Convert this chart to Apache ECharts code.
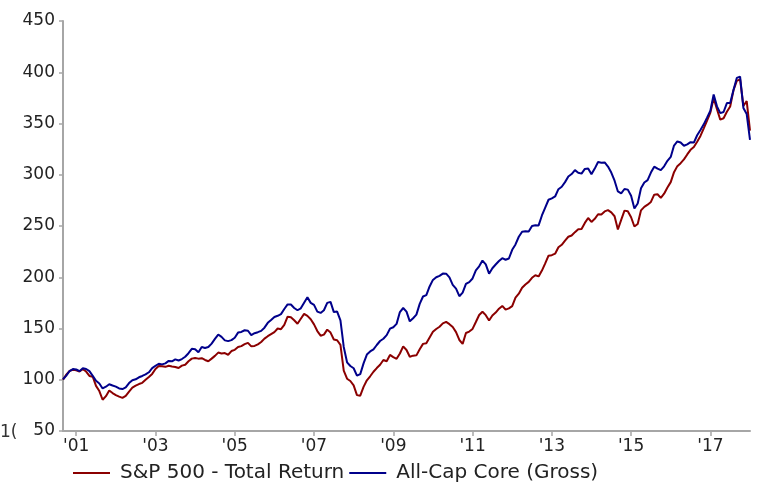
<!DOCTYPE html>
<html>
<head>
<meta charset="utf-8">
<script src="https://cdn.jsdelivr.net/npm/echarts@6/dist/echarts.min.js"></script>
<style>html,body{margin:0;padding:0;background:#fff}#c{width:774px;height:482px}</style>
</head>
<body>
<div id="c"></div>
<script>
// Monthly observations, first month and count
const startYear = 2000, startMonth = 9, monthCount = 209;
const seriesNames = ['S&P 500 - Total Return', 'All-Cap Core (Gross)'];
const yTicks = [50, 100, 150, 200, 250, 300, 350, 400, 450];

const sp500 = [
100,105,108.7,109.8,109.2,108,110.3,108,103.7,103,94,89,80.5,84,89.5,87,85,83.5,82.3,84.3,
88.5,92.3,94.3,95.8,97,100,102.7,105.7,110.5,113.4,113.2,112.6,113.7,113,112.5,111.4,113.8,114.6,118,120.6,
121.2,120.6,121,119.3,118,120.6,123.3,126.5,125.6,126,124.4,128,129.2,131.9,132.8,134.7,136,132.6,133,134.5,
136.8,140.1,142.5,144.5,146.5,150,149.3,153.5,161.5,161,158,154.6,159.5,164.3,162.3,159,154,147.5,143,144,
148.9,146,139.3,138.5,134,109,101,98.8,94.5,85,84.5,93,99.5,103.4,107.8,111.4,114.6,119.3,118,124.2,
122,120.4,125.6,132.5,129,122.5,123.5,123.8,129.8,135,135.6,141.3,146.8,149.5,151.7,155,156.4,154.2,151.4,146.5,
138.8,135,145.6,147,149.6,156.3,163.2,166.4,163,157.8,162.7,165.5,169.3,172,168.4,169.6,171.8,180.2,184,189.8,
193,195.5,199.5,202,200.8,206.5,213.5,221,221.5,223,229.2,231.7,235.8,239.5,240.7,244,246.9,247,253,257.8,
254,257,261.5,261.3,264.2,265.5,263.3,259.5,246.6,256,265,264.4,258.5,249.5,252,265.3,268.7,270.8,273.5,280.6,
281,277.5,281.5,287.5,292.8,302.5,308.4,311.3,315,319.8,324.3,327,332.2,337.9,345.3,352.9,360.6,374.7,364,353.7,
355.1,361.4,366.6,382.4,391.6,393,367,371.9,343
];

const allCap = [
100.5,104,108.5,110.4,110,108.4,111.2,110.5,108.4,103.8,99,96.4,91.5,93.2,95.6,94.4,93.3,91.5,90.9,92.5,
96.8,99.6,100.4,102.4,103.7,105.2,107.3,111.3,113.6,115.6,115,116,118.4,118,119.9,118.8,120.2,122.4,125.9,130.2,
129.8,126.8,131.9,130.9,131.9,135.3,139.8,144.1,141.8,138.4,137.7,138.7,141,146,146.6,148.3,147.8,143.6,145.4,146.4,
147.7,150.8,155.5,158.3,161.2,162.4,164,169,173.5,173.4,170,167.8,169.7,175.2,180.5,175,173,166.5,165.2,167.8,
175,176,166,166.5,158,132,117,113.4,111.2,104,105.5,116,124.6,127.6,129.7,133.9,137.8,140,143.5,149.8,
151.2,154.5,166,170,166.5,157,160,163.5,174,181.2,182.5,191,197.4,200,201.4,203.6,203.5,199.9,192.5,188.9,
181.5,185,193.5,195.3,198.8,206.8,210.7,216.3,212.5,203.5,208.8,212.4,215.8,218.6,217.1,218.3,226.8,232,239.5,244.4,
244.8,244.6,250.1,250.7,250.6,260.3,268,275.6,276.9,278.8,285.9,288.3,292.8,298.3,300.7,304.5,302,301.1,305.7,306.1,
300.6,306,312.5,311.8,312,308,302.1,294.2,283.7,281.8,286.1,285.5,279.5,267,272,286.8,292.4,294.7,302.1,307.9,
305.9,304.5,308.2,313.6,317.4,328.5,332.5,331.4,328.3,329.7,331.8,331.4,338.5,343.7,349.2,355.7,362.4,378.3,366.7,360.1,
361.2,369.9,369.9,382.6,394.5,395.8,365.2,359.2,334
];

const months = [];
for (let i = 0; i < monthCount; i++) {
  const m0 = startMonth - 1 + i;
  const y = startYear + Math.floor(m0 / 12);
  const m = (m0 % 12) + 1;
  months.push(y + '-' + (m < 10 ? '0' + m : m));
}
// show a label every other January
const showLabel = (idx, val) => {
  const v = months[idx] || val;
  const y = +v.slice(0, 4), m = +v.slice(5, 7);
  return m === 1 && y % 2 === 1;
};

const FONT = 'DejaVu Sans';
const chart = echarts.init(document.getElementById('c'), null, {renderer: 'canvas'});
chart.setOption({
  animation: false,
  backgroundColor: '#ffffff',
  grid: {left: 63, right: 24, top: 21, bottom: 51, containLabel: false},
  legend: {
    data: seriesNames,
    left: 68, top: 458,
    icon: 'rect', itemWidth: 37, itemHeight: 2, itemGap: 5,
    textStyle: {fontFamily: FONT, fontSize: 20, color: '#222', padding: [0, 0, 0, 5]}
  },
  xAxis: {
    type: 'category',
    data: months,
    boundaryGap: false,
    axisLine: {lineStyle: {color: '#a6a6a6', width: 2}},
    axisTick: {show: true, interval: showLabel, length: 5, lineStyle: {color: '#a6a6a6', width: 1.5}},
    axisLabel: {
      interval: showLabel, margin: 7,
      fontFamily: FONT, fontSize: 17, color: '#222',
      formatter: v => "'" + v.slice(2, 4)
    },
    splitLine: {show: false}
  },
  yAxis: {
    type: 'value',
    min: yTicks[0], max: yTicks[yTicks.length - 1], interval: 50,
    axisLine: {show: true, lineStyle: {color: '#a6a6a6', width: 2}},
    axisTick: {show: true, length: 4, lineStyle: {color: '#a6a6a6', width: 1.5}},
    axisLabel: {margin: 8, fontFamily: FONT, fontSize: 17, color: '#222'},
    splitLine: {show: false}
  },
  graphic: [{type: 'text', left: 0, top: 424, style: {text: '1(', font: '17px "DejaVu Sans"', fill: '#333'}}],
  series: [
    {name: seriesNames[0], type: 'line', data: sp500, symbol: 'none', lineStyle: {color: '#8b0000', width: 2}, itemStyle: {color: '#8b0000'}},
    {name: seriesNames[1], type: 'line', data: allCap, symbol: 'none', lineStyle: {color: '#00008b', width: 2}, itemStyle: {color: '#00008b'}}
  ]
});
</script>
</body>
</html>
